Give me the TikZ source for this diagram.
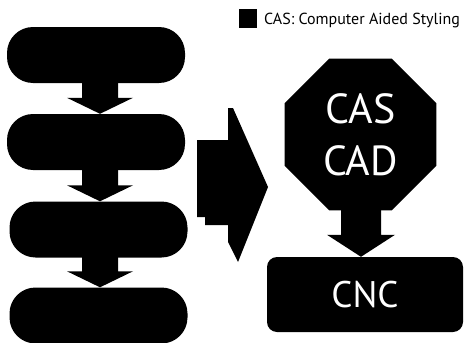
\documentclass[tikz,border=0pt]{standalone}
\usepackage{fontspec}
\setmainfont{PT Sans}
\usetikzlibrary{shapes.geometric,calc}
% block arrow: #1 from anchor, #2 to anchor, #3 x coordinate, #4 shaft half width, #5 head half width, #6 head length
\newcommand\blockdown[6]{%
  \fill ($(#3 |- #1)+(-#4,-2)$) -- ($(#3 |- #2)+(-#4,-#6)$) -- ($(#3 |- #2)+(-#5,-#6)$) -- (#3 |- #2)
    -- ($(#3 |- #2)+(#5,-#6)$) -- ($(#3 |- #2)+(#4,-#6)$) -- ($(#3 |- #1)+(#4,-2)$) -- cycle;}
\begin{document}
\begin{tikzpicture}[x=1pt,y=-1pt,
  pill/.style={fill=black, rounded corners=26pt, minimum width=178pt, minimum height=56pt, inner sep=0pt},
  octa/.style={regular polygon, regular polygon sides=8, minimum size=164pt, fill=black, text=white,
    inner sep=0pt, align=center, font=\fontsize{42}{52}\selectfont},
  cncbox/.style={fill=black, rounded corners=10pt, minimum width=196pt, minimum height=75pt, text=white,
    inner sep=0pt, font=\fontsize{37}{42}\selectfont},
  legsq/.style={fill=black, minimum width=18pt, minimum height=19pt, inner sep=0pt},
  legtext/.style={anchor=west, inner sep=0pt, font=\fontsize{16}{18}\selectfont}]
\useasboundingbox[fill=white] (0,0) rectangle (464,343);
% left column
\node[pill] (p1) at (96,55) {};
\node[pill] (p2) at (96,142) {};
\node[pill] (p3) at (98.5,229.5) {};
\node[pill] (p4) at (98.5,315.5) {};
\coordinate (ax) at (100,0);
\blockdown{p1.south}{p2.north}{ax}{18}{33}{16}
\blockdown{p2.south}{p3.north}{ax}{18}{33}{16}
\blockdown{p3.south}{p4.north}{ax}{18}{33}{16}
% big arrow
\fill (197,140) -- (228,140) -- (228,108) -- (233,108) -- (268,187) -- (238,262) -- (228,242)
  -- (228,225) -- (205,225) -- (205,217) -- (197,217) -- cycle;
% right column
\node[octa] (oct) at (360.5,134.5) {CAS\\CAD};
\node[cncbox] (cnc) at (365,294.5) {CNC};
\coordinate (bx) at (361,0);
\blockdown{oct.south}{cnc.north}{bx}{20}{34}{22}
% legend
\node[legsq] (sq) at (248,18) {};
\node[legtext] (leg) at (264,20) {CAS: Computer Aided Styling};
\end{tikzpicture}
\end{document}
